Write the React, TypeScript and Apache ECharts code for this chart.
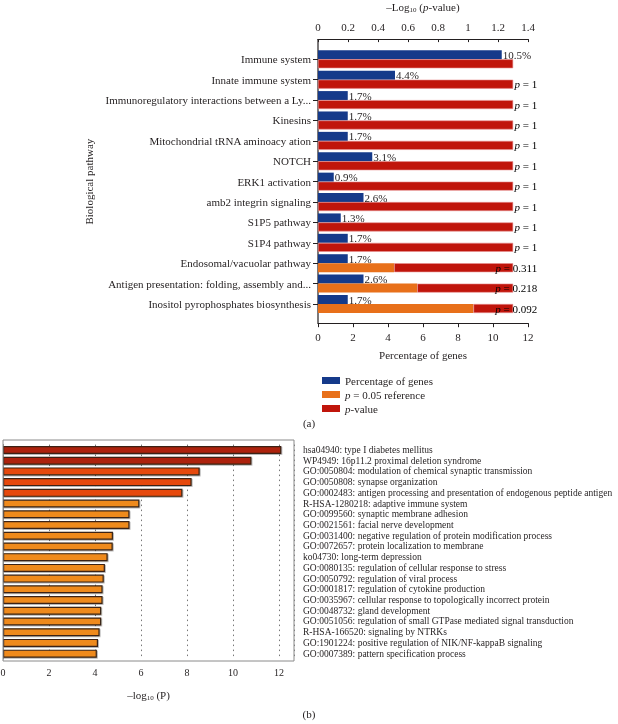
import React, { useEffect, useRef } from 'react';
import * as echarts from 'echarts';

// ---------- (a) ----------
const pathways = [
  'Immune system',
  'Innate immune system',
  'Immunoregulatory interactions between a Ly...',
  'Kinesins',
  'Mitochondrial tRNA aminoacy ation',
  'NOTCH',
  'ERK1 activation',
  'amb2 integrin signaling',
  'S1P5 pathway',
  'S1P4 pathway',
  'Endosomal/vacuolar pathway',
  'Antigen presentation: folding, assembly and...',
  'Inositol pyrophosphates biosynthesis',
];
const percentGenes = [10.5, 4.4, 1.7, 1.7, 1.7, 3.1, 0.9, 2.6, 1.3, 1.7, 1.7, 2.6, 1.7];
const pValues: (number | null)[] = [null, 1, 1, 1, 1, 1, 1, 1, 1, 1, 0.311, 0.218, 0.092];
const pReference = 0.05;
const pctAxisMax = 12;
const logAxisMax = 1.4;

// ---------- (b) ----------
const terms = [
  'hsa04940: type I diabetes mellitus',
  'WP4949: 16p11.2 proximal deletion syndrome',
  'GO:0050804: modulation of chemical synaptic transmission',
  'GO:0050808: synapse organization',
  'GO:0002483: antigen processing and presentation of endogenous peptide antigen',
  'R-HSA-1280218: adaptive immune system',
  'GO:0099560: synaptic membrane adhesion',
  'GO:0021561: facial nerve development',
  'GO:0031400: negative regulation of protein modification process',
  'GO:0072657: protein localization to membrane',
  'ko04730: long-term depression',
  'GO:0080135: regulation of cellular response to stress',
  'GO:0050792: regulation of viral process',
  'GO:0001817: regulation of cytokine production',
  'GO:0035967: cellular response to topologically incorrect protein',
  'GO:0048732: gland development',
  'GO:0051056: regulation of small GTPase mediated signal transduction',
  'R-HSA-166520: signaling by NTRKs',
  'GO:1901224: positive regulation of NIK/NF-kappaB signaling',
  'GO:0007389: pattern specification process',
];
const termLogP = [12.1, 10.8, 8.55, 8.2, 7.8, 5.93, 5.5, 5.5, 4.78, 4.77, 4.55, 4.43, 4.38, 4.33, 4.33, 4.27, 4.27, 4.2, 4.13, 4.08];
const bTicksMax = 12;

const FONT = 'Liberation Serif';
const INK = '#231f20';

export default function App() {
  const ref = useRef<HTMLDivElement>(null);
  useEffect(() => {
    if (!ref.current) return;
    const chart = echarts.init(ref.current, undefined, { renderer: 'svg' });
    const refLog = -Math.log10(pReference);
    const orangeVals = pValues.map((p) => (p == null ? 0 : Math.abs(-Math.log10(p))));
    const redVals = orangeVals.map((o) => refLog - o);
    const italic = { fontStyle: 'italic', fontFamily: FONT, fontSize: 11, color: INK };

    const bColors = termLogP.map((_, i) => (i < 2 ? '#ad2109' : i < 5 ? '#e6490f' : '#ef8a1e'));

    const option: any = {
      animation: false,
      textStyle: { fontFamily: FONT, color: INK },
      legend: {
        orient: 'vertical',
        left: 317,
        top: 370,
        itemWidth: 18,
        itemHeight: 7,
        itemGap: 3,
        selectedMode: false,
        icon: 'rect',
        itemStyle: { borderWidth: 0 },
        data: ['Percentage of genes', 'p = 0.05 reference', 'p-value'],
        formatter: (name: string) =>
          name === 'p = 0.05 reference' ? '{i|p} = 0.05 reference' : name === 'p-value' ? '{i|p}-value' : name,
        textStyle: { fontFamily: FONT, fontSize: 11, color: INK, rich: { i: italic } },
      },
      grid: [
        { left: 318, top: 49.1, width: 210, height: 265.1, outerBoundsMode: 'none', containLabel: false },
        { left: 3, top: 444.6, width: 291, height: 214.4, outerBoundsMode: 'none', containLabel: false },
      ],
      xAxis: [
        {
          gridIndex: 0,
          type: 'value',
          position: 'top',
          offset: 10,
          min: 0,
          max: logAxisMax,
          interval: 0.2,
          axisLine: { show: true, lineStyle: { color: INK, width: 1.2 } },
          axisTick: { show: true, inside: true, length: 3, lineStyle: { color: INK } },
          axisLabel: { fontSize: 11, color: INK, margin: 7, fontFamily: FONT },
          splitLine: { show: false },
          name: '–Log{sub|10} ({i|p}-value)',
          nameLocation: 'middle',
          nameGap: 26,
          nameTextStyle: {
            fontSize: 11,
            fontFamily: FONT,
            color: INK,
            rich: {
              sub: { fontSize: 7, fontFamily: FONT, color: INK, verticalAlign: 'bottom', padding: [6, 0, 0, 0] },
              i: italic,
            },
          },
        },
        {
          gridIndex: 0,
          type: 'value',
          position: 'bottom',
          offset: 9,
          min: 0,
          max: pctAxisMax,
          interval: 2,
          axisLine: { show: true, lineStyle: { color: INK, width: 1.2 } },
          axisTick: { show: true, length: 4, lineStyle: { color: INK } },
          axisLabel: { fontSize: 11, color: INK, margin: 8, fontFamily: FONT },
          splitLine: { show: false },
          name: 'Percentage of genes',
          nameLocation: 'middle',
          nameGap: 26,
          nameTextStyle: { fontSize: 11, fontFamily: FONT, color: INK },
        },
        {
          gridIndex: 1,
          type: 'value',
          position: 'bottom',
          offset: 2,
          min: 0,
          max: 12.65,
          interval: 2,
          axisLine: { show: false },
          axisTick: { show: false },
          axisLabel: {
            fontSize: 10,
            color: INK,
            margin: 6,
            fontFamily: FONT,
            formatter: (v: number) => (v <= bTicksMax ? String(v) : ''),
          },
          splitLine: { show: true, lineStyle: { color: '#777', type: [1.5, 3.5], width: 1 } },
          name: '–log{sub|10} (P)',
          nameLocation: 'middle',
          nameGap: 27,
          nameTextStyle: {
            fontSize: 11,
            fontFamily: FONT,
            color: INK,
            rich: { sub: { fontSize: 7, fontFamily: FONT, color: INK, verticalAlign: 'bottom', padding: [6, 0, 0, 0] } },
          },
        },
      ],
      yAxis: [
        {
          gridIndex: 0,
          type: 'category',
          inverse: true,
          data: pathways,
          axisLine: { show: false },
          axisTick: { show: true, length: 5, alignWithLabel: true, lineStyle: { color: INK } },
          axisLabel: { fontSize: 11, color: INK, margin: 7, fontFamily: FONT, interval: 0 },
          name: 'Biological pathway',
          nameLocation: 'middle',
          nameRotate: 90,
          nameGap: 224,
          nameTextStyle: { fontSize: 11, fontFamily: FONT, color: INK },
        },
        {
          gridIndex: 1,
          type: 'category',
          inverse: true,
          position: 'right',
          data: terms,
          axisLine: { show: true, lineStyle: { color: '#8a8a8a', width: 1 } },
          axisTick: { show: true, length: 5, alignWithLabel: true, interval: 0, lineStyle: { color: '#222', width: 1 } },
          axisLabel: { fontSize: 9.5, color: INK, margin: 9, fontFamily: FONT, interval: 0 },
        },
      ],
      series: [
        {
          name: 'Percentage of genes',
          type: 'bar',
          xAxisIndex: 1,
          yAxisIndex: 0,
          barWidth: 9,
          barGap: '0%',
          data: percentGenes,
          itemStyle: { color: '#153a8a' },
          label: {
            show: true,
            position: 'right',
            distance: 1,
            formatter: (p: any) => p.value + '%',
            fontSize: 11,
            fontFamily: FONT,
            color: INK,
          },
        },
        {
          name: 'p = 0.05 reference',
          type: 'bar',
          stack: 'p',
          xAxisIndex: 0,
          yAxisIndex: 0,
          barWidth: 9,
          barGap: '0%',
          data: orangeVals,
          itemStyle: { color: '#e8701a' },
        },
        {
          name: 'p-value',
          type: 'bar',
          stack: 'p',
          xAxisIndex: 0,
          yAxisIndex: 0,
          barWidth: 9,
          barGap: '0%',
          data: redVals,
          itemStyle: { color: '#c0150b', borderColor: '#e89090', borderWidth: 0.6 },
          label: {
            show: true,
            position: 'right',
            align: 'right',
            distance: 24,
            formatter: (p: any) => (pValues[p.dataIndex] == null ? '' : '{i|p} = ' + pValues[p.dataIndex]),
            fontSize: 11,
            fontFamily: FONT,
            color: '#000',
            rich: { i: { ...italic, color: '#000' } },
          },
        },
        {
          name: 'Enrichment',
          type: 'bar',
          xAxisIndex: 2,
          yAxisIndex: 1,
          barWidth: 8,
          data: termLogP.map((v, i) => ({ value: v, itemStyle: { color: bColors[i] } })),
          itemStyle: {
            borderColor: '#3a2414',
            borderWidth: 1.2,
            shadowColor: 'rgba(0,0,0,0.35)',
            shadowBlur: 1,
            shadowOffsetX: 0.8,
            shadowOffsetY: 0.8,
          },
        },
      ],
      graphic: [
        { type: 'line', shape: { x1: 318, y1: 39, x2: 318, y2: 323.5 }, style: { stroke: INK, lineWidth: 1.2 } },
        {
          type: 'rect',
          shape: { x: 3, y: 440, width: 291, height: 221 },
          style: { fill: 'none', stroke: '#8a8a8a', lineWidth: 1 },
          z: 10,
        },
        { type: 'text', x: 309, y: 423, style: { text: '(a)', font: `11px "${FONT}"`, fill: INK, align: 'center', verticalAlign: 'middle' } },
        { type: 'text', x: 309, y: 714, style: { text: '(b)', font: `11px "${FONT}"`, fill: INK, align: 'center', verticalAlign: 'middle' } },
      ],
    };
    chart.setOption(option);
    return () => chart.dispose();
  }, []);
  return <div ref={ref} style={{ position: 'fixed', left: 0, top: 0, width: 618, height: 724 }} />;
}
